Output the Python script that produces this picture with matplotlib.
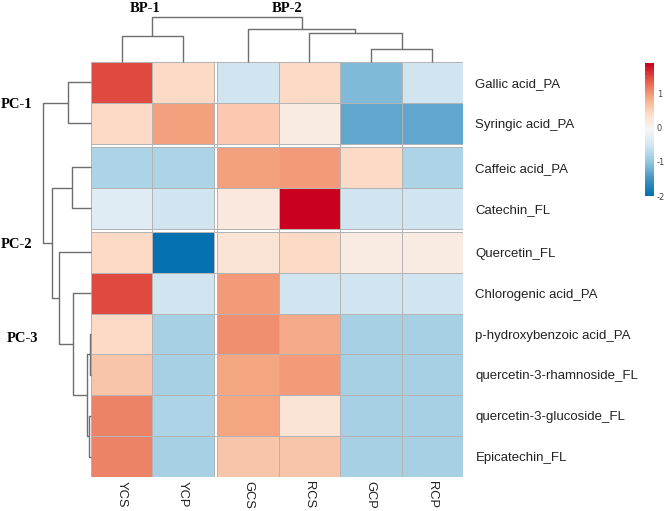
import numpy as np
import matplotlib.pyplot as plt
from matplotlib.colors import LinearSegmentedColormap

# data
samples = ["YCS", "YCP", "GCS", "RCS", "GCP", "RCP"]
compounds = ["Gallic acid_PA", "Syringic acid_PA", "Caffeic acid_PA", "Catechin_FL",
             "Quercetin_FL", "Chlorogenic acid_PA", "p-hydroxybenzoic acid_PA",
             "quercetin-3-rhamnoside_FL", "quercetin-3-glucoside_FL", "Epicatechin_FL"]
values = np.array([
    [1.50, 0.44, -0.54, 0.44, -1.14, -0.54],
    [0.44, 0.93, 0.60, 0.16, -1.31, -1.31],
    [-0.83, -0.83, 0.93, 0.97, 0.44, -0.83],
    [-0.33, -0.52, 0.21, 1.90, -0.52, -0.52],
    [0.44, -2.00, 0.30, 0.42, 0.16, 0.16],
    [1.50, -0.52, 1.00, -0.52, -0.52, -0.52],
    [0.44, -0.84, 1.07, 0.88, -0.84, -0.84],
    [0.65, -0.84, 0.89, 0.97, -0.84, -0.84],
    [1.15, -0.83, 0.92, 0.30, -0.84, -0.84],
    [1.15, -0.84, 0.62, 0.62, -0.84, -0.84],
])
# dendrograms (left child, right child, height), scipy-style ids
col_links = [(4, 5, 13), (0, 1, 26), (3, 6, 29), (2, 8, 33), (7, 9, 45)]
row_links = [(6, 7, 1.5), (8, 9, 2), (10, 11, 4), (5, 12, 18), (2, 3, 19),
             (0, 1, 23), (4, 13, 32), (14, 16, 39), (15, 17, 48)]
col_gaps = [2]
row_gaps = [2, 4]
col_groups = ["BP-1", "BP-2"]
row_groups = ["PC-1", "PC-2", "PC-3"]
cbar_ticks = [-2, -1, 0, 1]

cmap = LinearSegmentedColormap.from_list(
    "rdbu", ["#0571B0", "#4393C3", "#92C5DE", "#D1E5F0", "#F7F7F7",
             "#FDDBC7", "#F4A582", "#E35A47", "#CA0020"], N=100)
vmin, vmax = -2.0, 1.9

W, H = 666, 511
fig = plt.figure(figsize=(W / 100, H / 100), dpi=100)


def rect(x0, y0, x1, y1):
    return [x0 / W, 1 - y1 / H, (x1 - x0) / W, (y1 - y0) / H]


gx, gy = 0.055, 0.08


def edges(n, gaps, g):
    e, pos = [], 0.0
    for i in range(n):
        if i in gaps:
            e.append(pos)
            pos += g
        e.append(pos)
        pos += 1
    e.append(pos)
    return np.array(e)


def insert_nan(a, gaps, axis):
    for k, i in enumerate(gaps):
        a = np.insert(a, i + k, np.nan, axis=axis)
    return a


xe = edges(len(samples), col_gaps, gx)
ye = edges(len(compounds), row_gaps, gy)
grid = insert_nan(insert_nan(values, col_gaps, 1), row_gaps, 0)

xc = np.array([i + 0.5 + gx * sum(1 for g in col_gaps if i >= g) for i in range(len(samples))])
yc = np.array([i + 0.5 + gy * sum(1 for g in row_gaps if i >= g) for i in range(len(compounds))])

ax = fig.add_axes(rect(91, 62, 463, 477))
mesh = ax.pcolormesh(xe, ye, np.ma.masked_invalid(grid), cmap=cmap, vmin=vmin, vmax=vmax,
                     edgecolors="#B4B4B4", linewidth=0.6)
ax.set_xlim(xe[0], xe[-1])
ax.set_ylim(ye[-1], ye[0])
for s in ax.spines.values():
    s.set_visible(False)
ax.set_xticks(xc)
ax.set_xticklabels(samples, rotation=270, fontsize=9.3, family="Liberation Sans",
                   color="#222222", va="top", ha="center")
ax.yaxis.tick_right()
ax.set_yticks(yc)
ax.set_yticklabels(compounds, fontsize=9.5, family="Liberation Sans", color="#222222")
ax.tick_params(axis="y", length=0, pad=9)
ax.tick_params(axis="x", length=0, pad=3)


def draw_dendro(dax, links, leaf_pos, left=False):
    n = len(leaf_pos)
    pos = {i: (p, 0.0) for i, p in enumerate(leaf_pos)}
    for k, (a, b, h) in enumerate(links):
        pa, ha = pos[a]
        pb, hb = pos[b]
        xs, ys = [pa, pa, pb, pb], [ha, h, h, hb]
        if left:
            xs, ys = ys, xs
        dax.plot(xs, ys, color="#6E6E6E", lw=1.0, clip_on=False, solid_capstyle="butt")
        pos[n + k] = ((pa + pb) / 2, h)
    dax.axis("off")


cax_d = fig.add_axes(rect(91, 17, 463, 62))
draw_dendro(cax_d, col_links, xc)
cax_d.set_xlim(xe[0], xe[-1])
cax_d.set_ylim(0, 45)

rax_d = fig.add_axes(rect(43, 62, 91, 477))
draw_dendro(rax_d, row_links, yc, left=True)
rax_d.set_xlim(48, 0)
rax_d.set_ylim(ye[-1], ye[0])

# group labels
bold = dict(family="Liberation Serif", fontweight="bold", fontsize=10.5, ha="center", va="center")
fig.text(145 / W, 1 - 8 / H, col_groups[0], **bold)
fig.text(287 / W, 1 - 8 / H, col_groups[1], **bold)
fig.text(17 / W, 1 - 105 / H, row_groups[0], **bold)
fig.text(17 / W, 1 - 245 / H, row_groups[1], **bold)
fig.text(22 / W, 1 - 338 / H, row_groups[2], **bold)

# colorbar
cb_ax = fig.add_axes(rect(645, 63, 654, 196))
cb = fig.colorbar(mesh, cax=cb_ax, ticks=cbar_ticks)
cb.outline.set_visible(False)
cb.ax.set_yticklabels([str(t) for t in cbar_ticks])
cb.ax.tick_params(length=0, labelsize=6, labelcolor="#444444", pad=2)

fig.savefig("out.png", dpi=100)
